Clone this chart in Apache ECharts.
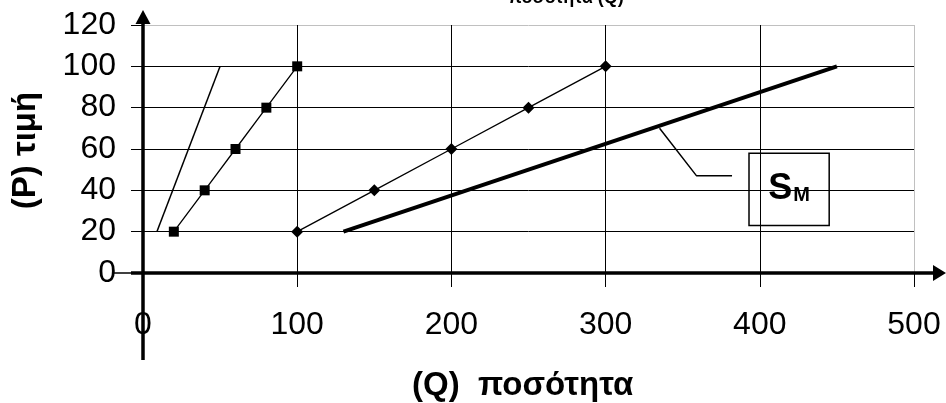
<!DOCTYPE html>
<html>
<head>
<meta charset="utf-8">
<script src="https://cdn.jsdelivr.net/npm/echarts@6/dist/echarts.min.js"></script>
<style>html,body{margin:0;padding:0;background:#fff;}#c{width:946px;height:403px;}</style>
</head>
<body>
<div id="c"></div>
<script>
// ---- data ----
const titleText = 'ποσότητα (Q)';
const xName = '(Q)  ποσότητα';
const yName = '(P) τιμή';
const xRange = [0, 500, 100];
const yRange = [0, 120, 20];
const lineA = [[9, 20], [50, 100]];
const squares = [[20, 20], [40, 40], [60, 60], [80, 80], [100, 100]];
const diamonds = [[100, 20], [150, 40], [200, 60], [250, 80], [300, 100]];
const supplyM = [[130, 20], [450, 100]];
const leader = [[335, 70], [359, 47], [382, 47]];
const boxCorners = [[393, 58], [445, 23]];
const boxMain = 'S';
const boxSub = 'M';

const FONT = "'Liberation Sans', Arial, sans-serif";
const chart = echarts.init(document.getElementById('c'), null, {renderer: 'canvas'});

const option = {
  animation: false,
  backgroundColor: '#fff',
  grid: {left: 143, right: 32, top: 25, bottom: 130, containLabel: false},
  xAxis: {
    type: 'value', min: xRange[0], max: xRange[1], interval: xRange[2],
    axisLine: {show: false},
    axisTick: {show: true, inside: false, length: 14, lineStyle: {color: '#000', width: 1}},
    axisLabel: {color: '#000', fontSize: 32, fontFamily: FONT, margin: 36},
    splitLine: {show: true, lineStyle: {color: ['#000', '#000', '#000', '#000', '#000', '#c0c0c0'], width: 1}}
  },
  yAxis: {
    type: 'value', min: yRange[0], max: yRange[1], interval: yRange[2],
    axisLine: {show: false},
    axisTick: {show: true, inside: false, length: 12, lineStyle: {color: '#000', width: 1}},
    axisLabel: {color: '#000', fontSize: 32, fontFamily: FONT, margin: 27},
    splitLine: {show: true, lineStyle: {color: ['#000', '#000', '#000', '#000', '#000', '#000', '#c0c0c0'], width: 1}}
  },
  series: [
    {type: 'line', data: lineA, symbol: 'none', lineStyle: {color: '#000', width: 1.5}, z: 3},
    {type: 'line', data: squares, symbol: 'rect', symbolSize: 10,
      itemStyle: {color: '#000'}, lineStyle: {color: '#000', width: 1.3}, z: 3},
    {type: 'line', data: diamonds, symbol: 'diamond', symbolSize: 12,
      itemStyle: {color: '#000'}, lineStyle: {color: '#000', width: 1.3}, z: 3},
    {type: 'line', data: supplyM, symbol: 'none', lineStyle: {color: '#000', width: 4}, z: 3},
    {type: 'line', data: leader, symbol: 'none', lineStyle: {color: '#000', width: 1.5}, z: 3,
      markArea: {
        silent: true,
        itemStyle: {color: 'rgba(0,0,0,0)', borderColor: '#000', borderWidth: 1.5},
        label: {
          show: true, position: 'inside',
          formatter: '{a|' + boxMain + '}{b|' + boxSub + '}',
          rich: {
            a: {fontSize: 36, fontWeight: 'bold', color: '#000', fontFamily: FONT},
            b: {fontSize: 20, fontWeight: 'bold', color: '#000', fontFamily: FONT, padding: [12, 0, 0, 1]}
          }
        },
        data: [[{coord: boxCorners[0]}, {coord: boxCorners[1]}]]
      }
    }
  ]
};
chart.setOption(option);

// axes with arrows, drawn from the axis scales
const o = chart.convertToPixel({gridIndex: 0}, [xRange[0], yRange[0]]);
const tr = chart.convertToPixel({gridIndex: 0}, [xRange[1], yRange[1]]);
const x0 = o[0], y0 = o[1], xMax = tr[0], yTop = tr[1];
chart.setOption({
  graphic: [
    {type: 'line', z: 100, shape: {x1: x0, y1: y0 + 87, x2: x0, y2: yTop - 1}, style: {stroke: '#000', lineWidth: 3.5}},
    {type: 'polygon', z: 100, shape: {points: [[x0 - 7.5, yTop - 1], [x0 + 7.5, yTop - 1], [x0, yTop - 15]]}, style: {fill: '#000'}},
    {type: 'line', z: 100, shape: {x1: x0 - 30, y1: y0, x2: x0 - 12, y2: y0}, style: {stroke: '#000', lineWidth: 1.5}},
    {type: 'line', z: 100, shape: {x1: x0 - 12, y1: y0, x2: xMax + 20, y2: y0}, style: {stroke: '#000', lineWidth: 3.5}},
    {type: 'polygon', z: 100, shape: {points: [[xMax + 19, y0 - 8], [xMax + 19, y0 + 8], [xMax + 32, y0]]}, style: {fill: '#000'}},
    {type: 'text', z: 100, style: {x: 566, y: 7, text: titleText, textAlign: 'center', textVerticalAlign: 'bottom',
      fill: '#000', font: 'bold 18px ' + FONT}},
    {type: 'text', z: 100, x: 25.5, y: 150.5, rotation: Math.PI / 2,
      style: {x: 0, y: 0, text: yName, textAlign: 'center', textVerticalAlign: 'middle', fill: '#000', font: 'bold 33px ' + FONT}},
    {type: 'text', z: 100, style: {x: 412, y: 386, text: xName, textAlign: 'left', textVerticalAlign: 'middle',
      fill: '#000', font: 'bold 33px ' + FONT}}
  ]
});
</script>
</body>
</html>
